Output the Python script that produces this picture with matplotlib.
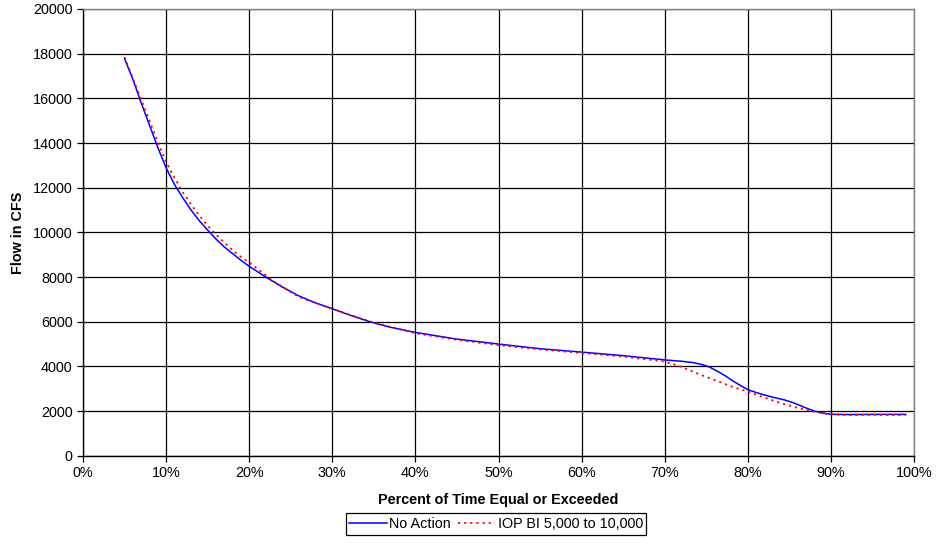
import matplotlib
matplotlib.use("Agg")
import matplotlib.pyplot as plt
from matplotlib.ticker import FuncFormatter

plt.rcParams['font.family'] = ['Liberation Sans', 'DejaVu Sans']

# percent of time equal or exceeded
pct_no_action = [5, 6, 7, 8, 9, 10, 11, 12, 13, 14, 15, 16, 17, 18, 19, 20, 22, 24,
                 26, 28, 30, 32, 34.4, 37, 40, 45, 50, 55, 60, 65, 70, 72, 73.4,
                 74.5, 75.4, 76.5, 77.4, 78.2, 79, 80, 81, 82, 83, 84.4, 85.5, 86.4,
                 87.2, 88, 89, 90, 92, 95, 99]
flow_no_action = [17780, 16850, 15800, 14800, 13800, 12890, 12150, 11550, 11000,
                  10520, 10100, 9700, 9350, 9050, 8750, 8480, 8000, 7550, 7150, 6840,
                  6580, 6310, 6010, 5750, 5520, 5220, 5000, 4790, 4640, 4480, 4290,
                  4230, 4170, 4080, 3970, 3750, 3550, 3350, 3170, 2960, 2830, 2720,
                  2620, 2500, 2370, 2230, 2110, 2000, 1910, 1855, 1845, 1850, 1850]

pct_iop = [5, 6, 7, 8, 9, 10, 11, 12, 13, 14, 15, 16, 17, 18, 19, 20, 23, 26, 30,
           35, 40, 45, 50, 55, 60, 65, 70, 71, 72.1, 73.5, 74.9, 76.5, 78.1, 80,
           82, 84, 86, 88, 89, 90, 92, 95, 99]
flow_iop = [17850, 16900, 15950, 15000, 14050, 13150, 12450, 11800, 11250, 10750,
            10300, 9900, 9550, 9200, 8900, 8650, 7800, 7100, 6570, 5960, 5480, 5190,
            4950, 4760, 4600, 4440, 4215, 4100, 3960, 3750, 3540, 3320, 3090, 2870,
            2600, 2350, 2140, 1970, 1900, 1856, 1820, 1830, 1820]

xticks = list(range(0, 101, 10))
yticks = list(range(0, 20001, 2000))

fig = plt.figure(figsize=(9.39, 5.45), dpi=100)
ax = fig.add_axes([0.0884, 0.1638, 0.8850, 0.8197])

ax.plot(pct_no_action, flow_no_action, color='#0000ff', lw=1.1, label='No Action')
ax.plot(pct_iop, flow_iop, color='#ff0000', lw=1.3, ls=(0, (1.2, 2.2)),
        label='IOP BI 5,000 to 10,000')

ax.set_xlim(0, 100)
ax.set_ylim(0, 20000)
ax.set_xticks(xticks)
ax.set_yticks(yticks)
ax.xaxis.set_major_formatter(FuncFormatter(lambda v, p: f"{int(v)}%"))
ax.grid(True, color='black', lw=0.9)
ax.set_axisbelow(True)

ax.tick_params(direction='out', length=4, width=0.9, labelsize=10.4, color='black')
for side in ['left', 'bottom']:
    ax.spines[side].set_color('black')
    ax.spines[side].set_linewidth(1.0)
for side in ['top', 'right']:
    ax.spines[side].set_color('#808080')
    ax.spines[side].set_linewidth(1.0)

ax.set_xlabel('Percent of Time Equal or Exceeded', fontsize=10.4, fontweight='bold',
              labelpad=9)
ax.set_ylabel('Flow in CFS', fontsize=10.4, fontweight='bold', labelpad=6)

leg = ax.legend(loc='center', bbox_to_anchor=(0.497, -0.153), ncol=2, fontsize=10.4,
                frameon=True, fancybox=False, edgecolor='black', framealpha=1,
                handlelength=2.6, handletextpad=0.15, columnspacing=0.5,
                borderpad=0.25, borderaxespad=0)
leg.get_frame().set_linewidth(0.9)

fig.savefig('out.png', dpi=100)
